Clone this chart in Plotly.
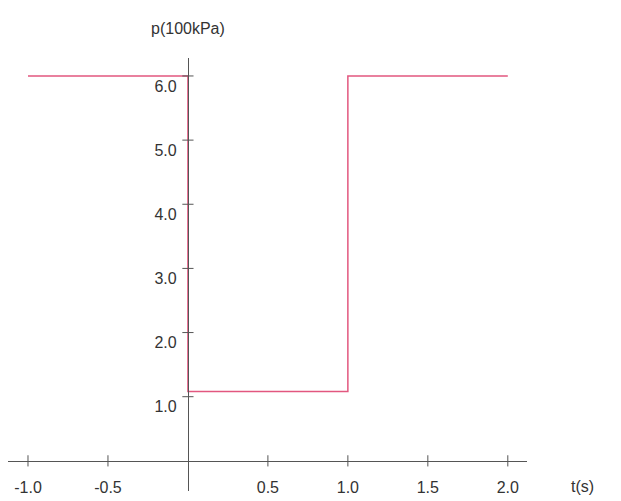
import plotly.graph_objects as go

# Pressure step: p(t) in units of 100 kPa
t_vals = [-1.0, 0.0, 0.0, 1.0, 1.0, 2.0]
p_vals = [6.0, 6.0, 1.08, 1.08, 6.0, 6.0]

x_ticks = [-1.0, -0.5, 0.5, 1.0, 1.5, 2.0]
x_tick_labels = ["-1.0", "-0.5", "0.5", "1.0", "1.5", "2.0"]
y_ticks = [1.0, 2.0, 3.0, 4.0, 5.0, 6.0]
y_tick_labels = ["1.0", "2.0", "3.0", "4.0", "5.0", "6.0"]

X_RANGE = [-1.125, 2.12]
Y_RANGE = [-0.47, 6.28]
AXIS_COLOR = "#555555"
TEXT_COLOR = "#333333"
FONT = "Liberation Sans, Arial, sans-serif"

fig = go.Figure()

# the step curve
fig.add_trace(
    go.Scatter(
        x=t_vals,
        y=p_vals,
        mode="lines",
        line=dict(color="#e2577f", width=1.5),
        showlegend=False,
        hoverinfo="skip",
    )
)

# crossing tick marks on both axes
fig.add_trace(
    go.Scatter(
        x=x_ticks,
        y=[0] * len(x_ticks),
        mode="markers",
        marker=dict(symbol="line-ns-open", size=8, color=AXIS_COLOR,
                    line=dict(color=AXIS_COLOR, width=1)),
        showlegend=False,
        hoverinfo="skip",
    )
)
fig.add_trace(
    go.Scatter(
        x=[0] * len(y_ticks),
        y=y_ticks,
        mode="markers",
        marker=dict(symbol="line-ew-open", size=8, color=AXIS_COLOR,
                    line=dict(color=AXIS_COLOR, width=1)),
        showlegend=False,
        hoverinfo="skip",
    )
)

x_pos = (0 - Y_RANGE[0]) / (Y_RANGE[1] - Y_RANGE[0])
y_pos = (0 - X_RANGE[0]) / (X_RANGE[1] - X_RANGE[0])

# page body has an 8px margin, so the figure is a bit smaller than the window
fig.update_layout(
    width=613,
    height=493,
    margin=dict(l=0, r=94, t=50, b=10),
    paper_bgcolor="white",
    plot_bgcolor="white",
    font=dict(family=FONT, size=16, color=TEXT_COLOR),
    xaxis=dict(
        range=X_RANGE,
        anchor="free",
        position=x_pos,
        showline=True,
        linecolor=AXIS_COLOR,
        linewidth=1,
        showgrid=False,
        zeroline=False,
        tickvals=x_ticks,
        ticktext=x_tick_labels,
        ticks="",
        ticklabelstandoff=12,
        automargin=False,
    ),
    yaxis=dict(
        range=Y_RANGE,
        anchor="free",
        position=y_pos,
        showline=True,
        linecolor=AXIS_COLOR,
        linewidth=1,
        showgrid=False,
        zeroline=False,
        tickvals=y_ticks,
        ticktext=y_tick_labels,
        ticks="",
        ticklabelstandoff=8,
        ticklabelshift=10,
        automargin=False,
    ),
    annotations=[
        dict(
            text="p(100kPa)",
            x=0,
            xref="x",
            y=1.0,
            yref="paper",
            yshift=30,
            showarrow=False,
            xanchor="center",
            yanchor="middle",
            font=dict(size=16, color=TEXT_COLOR),
        ),
        dict(
            text="t(s)",
            x=1.0,
            xref="paper",
            xshift=55,
            y=0,
            yref="y",
            yshift=-26,
            showarrow=False,
            xanchor="center",
            yanchor="middle",
            font=dict(size=16, color=TEXT_COLOR),
        ),
    ],
)

fig.write_html("out.html")
